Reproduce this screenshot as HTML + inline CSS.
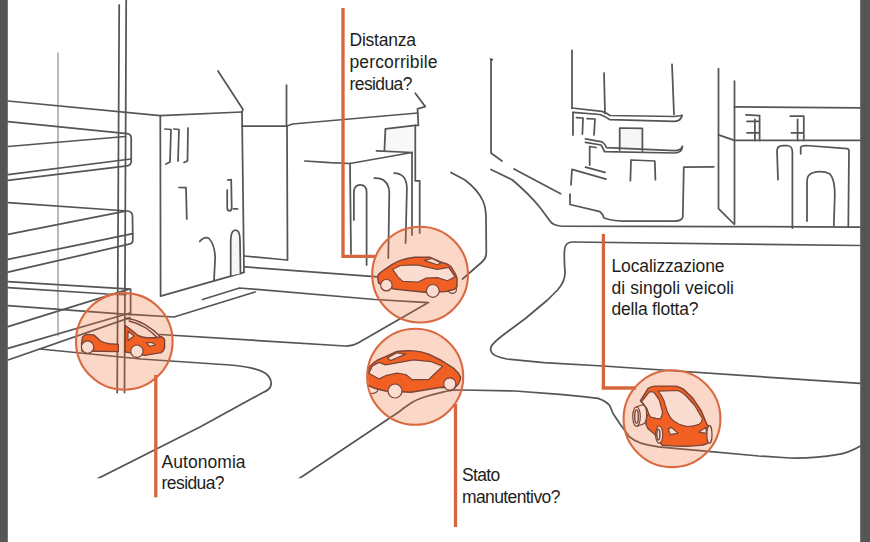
<!DOCTYPE html>
<html>
<head>
<meta charset="utf-8">
<title>Car sharing</title>
<style>
html,body{margin:0;padding:0;background:#fff;}
body{width:870px;height:542px;overflow:hidden;font-family:"Liberation Sans",sans-serif;}
svg{display:block;}
.ln{fill:none;stroke:#555;stroke-width:1.75;stroke-linecap:round;stroke-linejoin:round;}
.th{fill:none;stroke:#666;stroke-width:0.9;stroke-linecap:round;}
.tk{fill:none;stroke:#555;stroke-width:2;stroke-linecap:round;}
.or{fill:none;stroke:#d5663e;stroke-width:3.3;stroke-linejoin:miter;}
.ci{fill:#f26a35;fill-opacity:0.27;stroke:none;}
.cs{fill:none;stroke:#d96a42;stroke-width:2.1;}
.cb{fill:#f15f23;stroke:#7a4536;stroke-width:1.45;stroke-linejoin:round;}
.cw{fill:#fbdcd0;stroke:#7a4536;stroke-width:1.2;stroke-linejoin:round;}
.cl{fill:none;stroke:#7a4536;stroke-width:1.45;stroke-linecap:round;stroke-linejoin:round;}
text{font-family:"Liberation Sans",sans-serif;font-size:17.5px;fill:#1d1d1b;}
</style>
</head>
<body>
<svg width="870" height="542" viewBox="0 0 870 542">
<rect x="0" y="0" width="870" height="542" fill="#fff"/>

<!-- ===== LINE DRAWING ===== -->
<g id="parking" class="ln">
  <path d="M8,101 L160,115.7 L242,112"/>
  <path d="M119.2,5 L117.2,392.5"/>
  <path d="M126.2,0 L124.5,392.5"/>
  <path d="M8,121.6 L127,133.6 Q131,134 131.2,138 L131.2,161 Q131.2,165.3 127.1,165.8 L8,180.3"/>
  <path d="M8,146.5 L125.5,136.5"/>
  <path d="M8,174.7 L131,159"/>
  <path d="M8,202.7 L127.5,211 Q132.3,211.5 132.5,216 L132.8,240 Q132.8,243.8 129,244.2 L8,272.2"/>
  <path d="M8,234.4 L125.5,211.1"/>
  <path d="M8,259.4 L132.8,233.6"/>
  <path d="M8,281.7 L130.6,289.2 V314"/>
  <path d="M8,287.7 L107,294 L125.7,294.6"/>
  <path d="M8,305.6 L130.6,314.6"/>
  <path d="M8,326.6 L129,289.2"/>
  <path d="M8,348.3 L130,313"/>
  <path d="M8,360 L130,317.7"/>
</g>
<path class="th" d="M58,53 V336"/>

<g id="leftbuilding" class="ln">
  <path d="M160.3,115.5 L160.6,296.2 L244,272.3"/>
  <path d="M242,112 L244,272"/>
  <path d="M218,71 L243,109.5 L242,112"/>
  <path d="M165,129 L171,129.5 L170,162 L166,164"/>
  <path d="M174,129 L179,129.5 L178,161"/>
  <path d="M188,128 L187.5,161 L184,162.5"/>
  <path d="M179,187.5 L186,187.6 L186.8,219"/>
  <path d="M227.2,190 V207.5 Q227.2,210.8 229.4,210.8 Q231.7,210.8 231.7,207.5 L231.2,179.6 L227.6,180 M233.5,208.9 H237.5"/>
  <path d="M199.7,241.4 Q205,236 209,238.5 Q214.5,244 215.2,257 L214,280.7"/>
  <path d="M230.7,275.5 V240 Q231,230 235.5,230 Q240,230 240,240 L240.5,273.5" fill="#f6f6f6"/>
</g>

<g id="backbuilding" class="ln">
  <path d="M242,126 H286.5"/>
  <path d="M286.5,85 V126"/>
  <path d="M287,126 L287.5,260"/>
  <path d="M287,126 L292.5,124 L417.8,113"/>
  <path d="M244,256 L287,260"/>
  <path d="M244,266.8 L378,276.9"/>
</g>

<g id="archbuilding" class="ln">
  <path d="M385.4,128.8 L415.3,125.4 V152.5 L412,152.5 L384.5,151 Z" fill="#f8f8f8" stroke="none"/>
  <path d="M305,161 L330,162.7 L350,163.5 L412,152.5"/>
  <path d="M350,163.5 L351,254"/>
  <path d="M376.5,150.9 L412,152.5"/>
  <path d="M384.4,150.9 L385.4,128.8 L415.3,125.4"/>
  <path d="M412,152.5 L412,235"/>
  <path d="M353.9,220 V192 Q354.2,184.8 360.2,184.8 Q366.4,184.8 366.6,192 V265"/>
  <path d="M374.3,178.2 Q381,177.8 384.5,181 Q389,185 389.3,192 L388.3,258"/>
  <path d="M394.2,173.1 Q400,173.3 403.2,176.5 Q406.6,180 406.9,188 L405.6,243"/>
  <path d="M415.3,93.3 L425.3,106.6 L417.5,108.8 L418.4,125.4 L415.3,125.4 L415.3,180.8 L419.7,180.8 V233"/>
</g>

<g id="center" class="ln">
  <path d="M490.5,59 L492.5,59.8 M491,59 V153 L502,161"/>
  <path d="M451,172.5 L465,180 Q478,190 483,201 Q486,208 486,218 L486.3,252 Q486.3,258.5 482,262 L462.5,279"/>
  <path d="M491,169.5 L512.5,180 Q530,195 540,207.5 L550,221 Q553,225.5 561,226 L720,226.5 L860,227"/>
  <path d="M514,169 L560.7,193.7"/>
</g>

<g id="balcony" class="ln">
  <path d="M572,50.3 V108.3"/>
  <path d="M604,73 L605,113.5"/>
  <path d="M672,64.4 L674,114.5"/>
  <path d="M572,108 L602,111.4 Q607,113 610,115.5 L674.5,116.5 L682,115.5"/>
  <path d="M573,112.4 L600,114.5 Q606,117 610,119.7 L674.5,121.3 Q681,121 682,115.5"/>
  <path d="M573,112.4 V135"/>
  <path d="M576.5,117.6 L583,118 L582.4,134"/>
  <path d="M587,118.6 L595,119 L594,135"/>
  <path d="M619.7,150 V128 L642.4,128.4 V151" fill="#f6f6f6"/>
  <path d="M585.5,138.8 L602,141.9 Q605,144 606.5,147.6 L674.5,150.7 Q681,150.5 682.4,146.5"/>
  <path d="M585.5,142.4 L601,145 Q603,148 604.5,151.7 L674.5,153 Q682,153 682.4,146.5"/>
  <path d="M596,147.5 L589.7,146.5 V165"/>
  <path d="M585.5,167.2 L605,172.4"/>
  <path d="M571,184.8 L572,169.3 L606,179.2"/>
  <path d="M630.4,180.7 L631,160 L654.8,161 L655.4,179.7"/>
  <path d="M570,194 V204.5 L600,211.7 Q603,214 604,218 Q612,221 622.8,221 L674.5,221 Q682,221 682.8,217 L683.8,167.2 L713.8,166.8"/>
</g>

<g id="rightbuilding" class="ln">
  <path d="M718.5,68.6 V208.6 L734,224"/>
  <path d="M734.5,81 V224"/>
  <path d="M734.5,106.8 L860,107.8"/>
  <path d="M734.5,140.4 H860"/>
  <path d="M718.5,134.8 L734.5,140.4"/>
  <path d="M746,114.8 L759.6,115.6 V140.4 M754.9,119.3 V140.4 M747,121.4 H759.6 M747,132.8 H759.6"/>
  <path d="M790.3,116.2 H803.8 V140.4 M797.6,119.3 V140.4 M791.4,132.8 H803.8"/>
  <path d="M778,179.6 L777,151 Q777,145.5 783,145.5 L787,145.5 Q792.4,146 792.4,152 V228"/>
  <path d="M800.7,153.8 V147.6 Q801,145.5 806,145.5 L847,148.6 Q849,149 849,151 L848.3,227"/>
  <path d="M807,221 V181.7 Q807,175 812,173 Q822,170 830,174 Q835,180 834.8,195 L833.8,226"/>
</g>

<g id="roads" class="ln" clip-path="url(#kr)">
  <!-- sidewalk around left building -->
  <path d="M130,314.4 L174,317 L255,292"/>
  <path d="M202.5,299.5 L239.5,288 L375,299.5 L428.4,302.6 L358,343 Q352,346.5 345,346 L160,334.5"/>
  <!-- curb -->
  <path d="M40,349 L141,359 L230,365 Q255,367 265,373 Q272,378 271,385 Q270,390 262,393 L200,427 L95,480"/>
  <!-- right road box -->
  <path d="M860,245.5 L572.5,242 Q565,242 564.5,250 Q564,260 565,272.5 Q565,282 557.5,290 L547.5,300 L525.4,318.5 L503.2,335 Q494,342 491.5,346 Q489.5,350 492,353 Q495,356.8 506.9,359 L543.8,362.7 L602.8,366 L860,383.4"/>
  <!-- lower road line -->
  <path d="M860.5,445.9 Q848,453 837,454.7 Q815,458.5 790,458 L758.7,456 L700,450.6 L680,448.9 L658.5,446.9 L647.6,444.9 L640,442.8 Q633,440 629,436.3 L619.8,423.7 L612.9,413.3 Q610.5,407 609.4,405.3 Q606,401 598,398.4 L583,396.7 L560,394.4 L515,391 L462.5,390 L454.3,390 Q446,391 439.6,392.8 Q430,395 423,397.5 Q416,400 411.9,402.5 Q405,407 398,412.5 L297,480"/>
</g>

<!-- ===== ORANGE CALLOUT LINES ===== -->
<g class="or">
  <path d="M343,8 V256.3 H376"/>
  <path d="M155.8,375 V497.4"/>
  <path d="M455.5,404 V527"/>
  <path d="M603.4,234 V388 H636"/>
</g>

<!-- ===== CIRCLES ===== -->
<g>
  <circle class="ci" cx="124.3" cy="341.4" r="48.3"/>
  <circle class="ci" cx="420.1" cy="274.6" r="47.9"/>
  <circle class="ci" cx="415.2" cy="376.8" r="48"/>
  <circle class="ci" cx="672" cy="418.7" r="48.4"/>
  <circle class="cs" cx="124.3" cy="341.4" r="48.3"/>
  <circle class="cs" cx="420.1" cy="274.6" r="47.9"/>
  <circle class="cs" cx="415.2" cy="376.8" r="48"/>
  <circle class="cs" cx="672" cy="418.7" r="48.4"/>
</g>

<!-- CARS placeholder -->
<defs>
  <clipPath id="kr"><rect x="0" y="0" width="870" height="478.2"/></clipPath>
  <clipPath id="k1"><circle cx="124.3" cy="341.4" r="47.5"/></clipPath>
  <clipPath id="k2"><circle cx="420.1" cy="274.6" r="47.1"/></clipPath>
  <clipPath id="k3"><circle cx="415.2" cy="376.8" r="47.2"/></clipPath>
  <clipPath id="k4"><circle cx="672" cy="418.7" r="47.6"/></clipPath>
</defs>
<g id="cars">
 <!-- car 1 -->
 <g clip-path="url(#k1)">
  <path class="cb" d="M81.5,344 L82.6,337.1 Q84.5,334.5 87.1,334.4 L93.7,334.9 Q97,337.5 99.8,340.5 Q104,343.2 109.2,343.8 L118.3,344.4 V351.6 L82,351 Z"/>
  <path class="cb" d="M125.3,325.5 L131.4,330 L138,335.5 Q142,337.5 146.9,337.7 L155.7,337.7 L161.3,336.6 Q164.6,338 164.6,340.5 L164.6,347.7 Q164,351 161.3,352.6 L144.7,355.4 L129.2,352.6 L125.3,352 Z"/>
  <path class="cw" d="M128,331 L128,340.5 L134.1,336 Z"/>
  <path class="cw" d="M146.3,342.7 L152.4,342.7 L155.2,344.9 L149.6,346.5 Z"/>
  <circle class="cw" cx="87.6" cy="347.1" r="6.2"/>
  <circle class="cw" cx="136.9" cy="351.2" r="6.2"/>
  <path class="cl" d="M125.3,318.3 Q135,319 144.7,324.4 Q154,330 160.2,336.6"/>
  <path class="cl" d="M129.2,321 Q138,323 146,328 Q153,333 157,337.5"/>
 </g>
 <!-- car 2 -->
 <g clip-path="url(#k2)">
  <ellipse class="cw" cx="452.4" cy="289.8" rx="4" ry="3.6"/>
  <path class="cb" d="M377.5,276.9 Q378.5,273.5 381.3,271.8 L391.5,264.8 Q396,262 400.4,260.4 Q407,258 414.4,257.2 L429.7,257.2 L439.8,261.6 L447.5,264.2 Q451,266 452.6,269.3 Q456,274 457,278.2 L457,286.5 Q456,288.5 453.8,289.5 L446,291.5 L424.6,292.2 L394,289 L378.7,283.3 Z"/>
  <path class="cw" d="M392.7,269.3 L400.4,265.5 L416.9,264.8 L437.3,269.3 L448.7,267.4 L455.1,276.9 L447.5,280.7 L437.3,277.6 L425.8,278.2 L418.2,282 L402.9,281.4 L397.8,276.9 Z"/>
  <path class="cw" d="M424,260.4 L432.2,258.5 L441.1,262.9 L437.3,264.8 Z"/>
  <circle class="cw" cx="386.4" cy="285.2" r="5.7"/>
  <circle class="cw" cx="432.8" cy="290.9" r="6.4"/>
 </g>
 <!-- car 3 -->
 <g clip-path="url(#k3)">
  <ellipse class="cw" cx="372" cy="389.5" rx="6" ry="4"/>
  <path class="cb" d="M367,375.7 L369.5,366.8 Q373,362.5 377.8,359.8 L385.5,356.6 L396.9,351.5 Q405,350.5 413.5,350.9 Q421,351.5 428.7,354.1 L441.5,360.5 L454.2,368.7 Q459,373 460.6,377 Q460.5,381 458,384.6 L454.2,388.5 L441.5,387.2 L411,392.3 L385.5,391 L375.3,388.5 L362,383 Z"/>
  <path class="cw" d="M368.9,373.2 L372.7,365.6 L379.1,362.4 L385.5,364.9 L413.5,359.8 L431.3,361.7 L442.7,366.2 L431.3,377 L428.7,379.6 L412.2,379.6 L405.8,374.5 L396.9,373.2 L385.5,375.7 L379.1,378.9 Z"/>
  <path class="cw" d="M387.4,357.9 L396.9,352.8 L405.8,354.1 L390.6,360.5 Z"/>
  <circle class="cw" cx="449.8" cy="384" r="6.1"/>
  <circle class="cw" cx="395" cy="391" r="7"/>
 </g>
 <!-- car 4 -->
 <g clip-path="url(#k4)">
  <path class="cb" d="M640.4,401 L648.1,388.3 Q651,386.3 654.8,386.1 L675.8,386.1 Q680,387 683.6,389.4 L692.4,397.7 L701.3,411 L706.8,424.3 L708.5,426 L709.2,441 Q708,444.5 700,445.4 Q686,446.6 676.9,446.1 L662.5,445.2 L659,442 L654.8,434.3 L648.1,428.7 L645.9,424.3 L646.5,417 L648.5,413 L646.5,408 L644.5,405 Z"/>
  <path class="cw" d="M658.1,391.1 L678,390.5 Q682.5,392.5 685.8,395.5 L694.7,405.5 L702.4,418.8 Q702,422.5 699.1,424.3 Q694,426.5 688,426.5 Q683,426 679.2,424.3 Q674.5,422 671.4,418.8 Q668.5,415 667,411 L663.7,399.9 Q661,394.5 658.1,391.1 Z"/>
  <path class="cw" d="M641.7,401.6 L649.6,391.6 L653.7,392 Q657,396 659.2,399.9 L662.5,412.1 Q662.5,416 660.3,418.8 L655.9,418.4 L650.6,417.2 L648.6,413.5 L647,408.8 L644.8,405.5 Z"/>
  <path class="cw" d="M668.4,428.9 L671.4,427.4 L678.3,433.2 L670.1,434.6 Z"/>
  <path class="cw" d="M698.6,432.2 L705.9,427.2 L706.5,433.4 Z"/>
  <!-- rear wheel (cylinder) -->
  <path class="cw" d="M636.5,406.8 L642.6,404.8 Q646.6,405.5 646.6,414.4 Q646.6,423.5 642.6,424.2 L636.5,426.4 Z"/>
  <ellipse class="cw" cx="636.5" cy="416.6" rx="3.8" ry="9.8"/>
  <ellipse class="cl" cx="636.5" cy="416.6" rx="1.8" ry="6.6"/>
  <!-- front left wheel -->
  <ellipse class="cw" cx="659.2" cy="434.6" rx="3.6" ry="8.6"/>
  <ellipse class="cl" cx="658.4" cy="434.6" rx="1.5" ry="5.4"/>
  <!-- front right wheel -->
  <ellipse class="cw" cx="709.4" cy="434.5" rx="2.6" ry="8.8"/>
 </g>
</g>

<!-- ===== TEXT ===== -->
<g>
  <text x="349.5" y="45.9" textLength="66.5" lengthAdjust="spacing">Distanza</text>
  <text x="349.5" y="68.4" textLength="88" lengthAdjust="spacing">percorribile</text>
  <text x="349.5" y="90.4" textLength="63" lengthAdjust="spacing">residua?</text>

  <text x="161.6" y="467.6" textLength="84" lengthAdjust="spacing">Autonomia</text>
  <text x="161.6" y="489.4" textLength="63" lengthAdjust="spacing">residua?</text>

  <text x="462" y="481" textLength="38.3" lengthAdjust="spacing">Stato</text>
  <text x="462" y="503.2" textLength="98.4" lengthAdjust="spacing">manutentivo?</text>

  <text x="611.5" y="272.4" textLength="113" lengthAdjust="spacing">Localizzazione</text>
  <text x="611.5" y="293.9" textLength="122.5" lengthAdjust="spacing">di singoli veicoli</text>
  <text x="611.5" y="315.4" textLength="87" lengthAdjust="spacing">della flotta?</text>
</g>


<!-- ===== GREY SIDE BARS ===== -->
<rect x="0" y="0" width="7.8" height="542" fill="#555"/>
<rect x="860.2" y="0" width="9.8" height="542" fill="#555"/>
</svg>
</body>
</html>
